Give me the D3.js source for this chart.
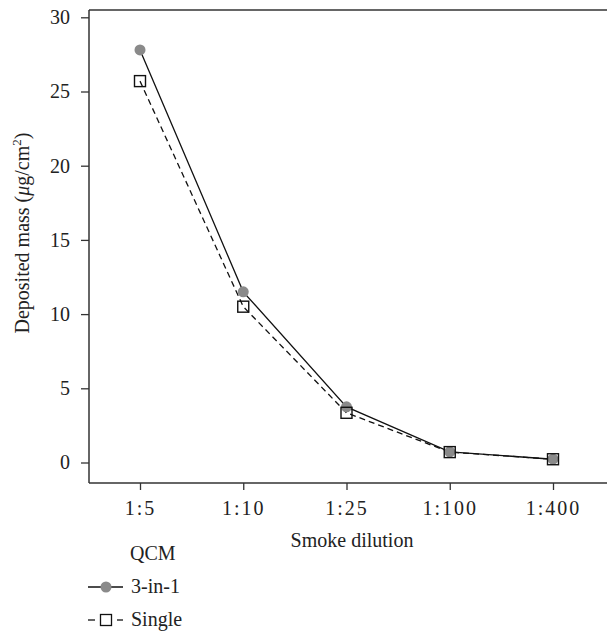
<!DOCTYPE html>
<html>
<head>
<meta charset="utf-8">
<script src="https://cdn.jsdelivr.net/npm/d3@7/dist/d3.min.js"></script>
<style>
  body { margin: 0; background: #fff; }
  svg text { font-family: "Liberation Serif", "Times New Roman", serif; fill: #222; }
</style>
</head>
<body>
<svg id="chart" width="607" height="632"></svg>
<script>
// data
var dilutions = ["1:5", "1:10", "1:25", "1:100", "1:400"];
var threeInOne = [27.8, 11.5, 3.75, 0.72, 0.22];
var single = [25.7, 10.5, 3.35, 0.7, 0.22];
var yTicks = [0, 5, 10, 15, 20, 25, 30];
var seriesNames = ["3-in-1", "Single"];
var legendTitle = "QCM";

var svg = d3.select("#chart"),
    WIDTH = 607,
    FONT = 20,
    MARGINS = { top: 10, left: 89, bottom: 483 };

var xScale = d3.scalePoint().domain(dilutions).range([140, 553]),
    yScale = d3.scaleLinear().domain([0, 30]).range([462.5, 17.3]);

// frame: left, top and bottom lines (right side is open)
svg.append("line").attr("x1", MARGINS.left).attr("x2", WIDTH).attr("y1", MARGINS.top).attr("y2", MARGINS.top)
    .attr("stroke", "#333").attr("stroke-width", 1.5);

var xAxis = d3.axisBottom(xScale).tickSize(7).tickPadding(11).tickSizeOuter(0);
var gx = svg.append("g")
    .attr("transform", "translate(0," + MARGINS.bottom + ")")
    .call(xAxis);
gx.select(".domain").attr("d", "M" + MARGINS.left + ",0H" + WIDTH);

var yAxis = d3.axisLeft(yScale).tickValues(yTicks).tickSize(8).tickPadding(11).tickSizeOuter(0);
var gy = svg.append("g")
    .attr("transform", "translate(" + MARGINS.left + ",0)")
    .call(yAxis);
gy.select(".domain").attr("d", "M0," + MARGINS.top + "V" + MARGINS.bottom);

svg.selectAll(".domain").attr("stroke", "#333").attr("stroke-width", 1.5);
svg.selectAll(".tick line").attr("stroke", "#333").attr("stroke-width", 1.3);
svg.selectAll(".tick text").attr("font-size", FONT).attr("fill", "#222");
gx.selectAll(".tick text").attr("letter-spacing", 2);

// axis titles
svg.append("text")
    .attr("x", 352).attr("y", 547)
    .attr("text-anchor", "middle").attr("font-size", FONT)
    .text("Smoke dilution");

var yl = svg.append("text")
    .attr("transform", "translate(29,233) rotate(-90)")
    .attr("text-anchor", "middle").attr("font-size", FONT);
yl.append("tspan").text("Deposited mass (");
yl.append("tspan").attr("font-style", "italic").text("\u03bc");
yl.append("tspan").text("g/cm");
yl.append("tspan").attr("font-size", 13).attr("dy", -8).text("2");
yl.append("tspan").attr("dy", 8).text(")");

// lines
var lineGen = d3.line()
    .x(function(d, i) { return xScale(dilutions[i]); })
    .y(function(d) { return yScale(d); });

svg.append("path").attr("d", lineGen(single))
    .attr("fill", "none").attr("stroke", "#111").attr("stroke-width", 1.3)
    .attr("stroke-dasharray", "6,4");
svg.append("path").attr("d", lineGen(threeInOne))
    .attr("fill", "none").attr("stroke", "#111").attr("stroke-width", 1.3);

// markers
svg.selectAll("circle.pt").data(threeInOne).enter().append("circle")
    .attr("class", "pt")
    .attr("cx", function(d, i) { return xScale(dilutions[i]); })
    .attr("cy", function(d) { return yScale(d); })
    .attr("r", 5.5).attr("fill", "#8a8a8a");

svg.selectAll("rect.pt").data(single).enter().append("rect")
    .attr("class", "pt")
    .attr("x", function(d, i) { return xScale(dilutions[i]) - 5.5; })
    .attr("y", function(d) { return yScale(d) - 5.5; })
    .attr("width", 11).attr("height", 11)
    .attr("fill", "none").attr("stroke", "#111").attr("stroke-width", 1.4);

// legend
svg.append("text").attr("x", 130).attr("y", 560).attr("font-size", FONT).text(legendTitle);

var lg1 = svg.append("g").attr("transform", "translate(0,587)");
lg1.append("line").attr("x1", 88).attr("x2", 123).attr("stroke", "#111").attr("stroke-width", 1.3);
lg1.append("circle").attr("cx", 106).attr("r", 5.5).attr("fill", "#8a8a8a");
lg1.append("text").attr("x", 131).attr("y", 6).attr("font-size", FONT).text(seriesNames[0]);

var lg2 = svg.append("g").attr("transform", "translate(0,620)");
lg2.append("line").attr("x1", 88).attr("x2", 95).attr("stroke", "#111").attr("stroke-width", 1.3);
lg2.append("line").attr("x1", 117).attr("x2", 123).attr("stroke", "#111").attr("stroke-width", 1.3);
lg2.append("rect").attr("x", 100.5).attr("y", -5.5).attr("width", 11).attr("height", 11)
    .attr("fill", "none").attr("stroke", "#111").attr("stroke-width", 1.3);
lg2.append("text").attr("x", 131).attr("y", 6).attr("font-size", FONT).text(seriesNames[1]);
</script>
</body>
</html>
